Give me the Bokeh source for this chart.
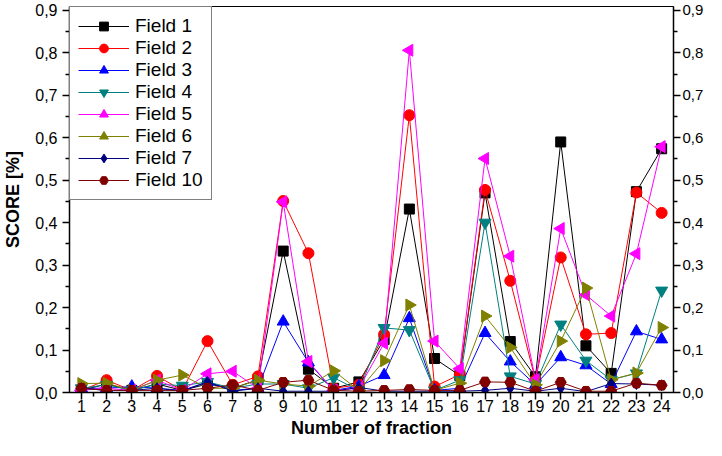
import numpy as np
from bokeh.plotting import figure
from bokeh.models import (FixedTicker, LinearAxis, CustomJSTickFormatter, Range1d, Legend)
from bokeh.embed import file_html
from bokeh.resources import INLINE

fractions = list(range(1, 25))

field_1 = [0.005, 0.02, 0.005, 0.02, 0.005, 0.02, 0.01, 0.03, 0.333, 0.055, 0.01, 0.025,
           0.125, 0.432, 0.08, 0.04, 0.47, 0.12, 0.037, 0.59, 0.11, 0.045, 0.473, 0.574]
field_2 = [0.005, 0.029, 0.005, 0.039, 0.005, 0.121, 0.018, 0.038, 0.451, 0.328, 0.01, 0.018,
           0.137, 0.653, 0.014, 0.042, 0.477, 0.263, 0.029, 0.318, 0.137, 0.140, 0.471, 0.423]
field_3 = [0.01, 0.01, 0.014, 0.01, 0.005, 0.025, 0.005, 0.01, 0.167, 0.071, 0.005, 0.015,
           0.041, 0.175, 0.005, 0.01, 0.140, 0.073, 0.018, 0.083, 0.064, 0.02, 0.144, 0.125]
field_4 = [0.01, 0.018, 0.005, 0.02, 0.016, 0.025, 0.01, 0.02, 0.02, 0.01, 0.035, 0.005,
           0.152, 0.147, 0.005, 0.029, 0.400, 0.038, 0.02, 0.160, 0.075, 0.03, 0.045, 0.240]
field_5 = [0.005, 0.01, 0.005, 0.029, 0.005, 0.044, 0.050, 0.01, 0.449, 0.073, 0.005, 0.01,
           0.116, 0.806, 0.121, 0.056, 0.551, 0.321, 0.03, 0.386, 0.230, 0.180, 0.327, 0.579]
field_6 = [0.021, 0.022, 0.005, 0.029, 0.041, 0.01, 0.01, 0.029, 0.02, 0.015, 0.051, 0.005,
           0.075, 0.206, 0.005, 0.022, 0.180, 0.106, 0.018, 0.121, 0.246, 0.03, 0.046, 0.153]
field_7 = [0.01, 0.005, 0.005, 0.01, 0.003, 0.025, 0.003, 0.01, 0.003, 0.003, 0.003, 0.012,
           0.003, 0.003, 0.003, 0.003, 0.005, 0.01, 0.003, 0.01, 0.002, 0.021, 0.02, 0.017]
field_10 = [0.01, 0.005, 0.005, 0.005, 0.005, 0.01, 0.018, 0.005, 0.024, 0.029, 0.005, 0.003,
            0.005, 0.007, 0.005, 0.005, 0.025, 0.024, 0.003, 0.024, 0.003, 0.003, 0.022, 0.017]

series_names = ["Field 1", "Field 2", "Field 3", "Field 4", "Field 5", "Field 6", "Field 7", "Field 10"]
series_values = [field_1, field_2, field_3, field_4, field_5, field_6, field_7, field_10]
series_colors = ["#000000", "#FF0000", "#0000FF", "#008080", "#FF00FF", "#808000", "#000080", "#800000"]
series_markers = ["square", "circle", "triangle", "inverted_triangle", "triangle", "triangle", "diamond", "hex"]
series_angles = [0, 0, 0, 0, np.pi / 2, -np.pi / 2, 0, 0]
series_sizes = [10, 11, 12, 12, 12, 12, 11, 11]

y_ticks = [0.0, 0.1, 0.2, 0.3, 0.4, 0.5, 0.6, 0.7, 0.8, 0.9]

FONT = "Liberation Sans"

p = figure(width=706, height=440, output_backend="svg", toolbar_location=None,
           x_range=Range1d(0.53, 24.47), y_range=Range1d(0.0, 0.909),
           min_border_top=6, min_border_bottom=0, min_border_left=0, min_border_right=0)
p.grid.visible = False
p.outline_line_color = "black"
p.outline_line_width = 1
p.background_fill_color = "white"
p.border_fill_color = "white"

fmt = CustomJSTickFormatter(code="return tick.toFixed(1).replace('.', ',');")

def style_axis(ax, size="16px"):
    ax.axis_line_color = "black"
    ax.axis_line_width = 1.5
    ax.major_tick_line_color = "black"
    ax.minor_tick_line_color = "black"
    ax.major_tick_line_width = 1.5
    ax.minor_tick_line_width = 1.5
    ax.major_tick_out = 7
    ax.major_tick_in = 0
    ax.minor_tick_out = 4
    ax.minor_tick_in = 0
    ax.major_label_text_font = FONT
    ax.major_label_text_font_size = size
    ax.major_label_text_color = "black"
    ax.axis_label_text_font = FONT
    ax.axis_label_text_font_style = "bold"
    ax.axis_label_text_color = "black"

xa = p.xaxis[0]
xa.ticker = FixedTicker(ticks=fractions, minor_ticks=[f + 0.5 for f in fractions[:-1]])
style_axis(xa)
xa.axis_label = "Number of fraction"
xa.axis_label_text_font_size = "18px"
xa.major_label_standoff = 0
xa.axis_label_standoff = 3

ya = p.yaxis[0]
ya.ticker = FixedTicker(ticks=y_ticks, minor_ticks=[t + 0.05 for t in y_ticks[:-1]])
ya.formatter = fmt
style_axis(ya)
ya.axis_label = "SCORE [%]"
ya.axis_label_text_font_size = "18px"
ya.major_label_standoff = 5
ya.axis_label_standoff = 9

ra = LinearAxis(ticker=FixedTicker(ticks=y_ticks, minor_ticks=[t + 0.05 for t in y_ticks[:-1]]),
                formatter=fmt)
style_axis(ra, "15px")
ra.major_label_standoff = 2
p.add_layout(ra, "right")

items = []
for name, vals, col, mk, ang, sz in zip(series_names, series_values, series_colors,
                                        series_markers, series_angles, series_sizes):
    r1 = p.line(fractions, vals, line_color=col, line_width=1)
    r2 = p.scatter(fractions, vals, marker=mk, angle=ang, size=sz,
                   fill_color=col, line_color=col, line_width=1)
    items.append((name, [r1, r2]))

legend = Legend(items=items, location="top_left", margin=0, padding=8, spacing=0,
                label_height=22, glyph_height=22, glyph_width=51, label_standoff=6,
                label_text_font=FONT, label_text_font_size="19px", label_text_color="black",
                border_line_color="black", border_line_width=1,
                background_fill_color="white", background_fill_alpha=1.0)
p.add_layout(legend, "center")

open("out.html", "w").write(file_html(p, INLINE))
